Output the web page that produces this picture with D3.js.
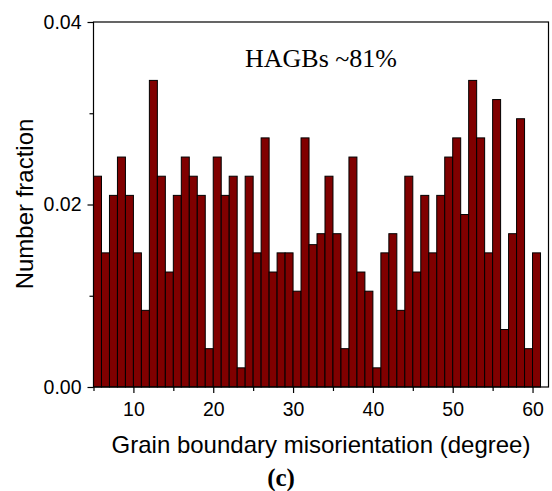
<!DOCTYPE html>
<html>
<head>
<meta charset="utf-8">
<script src="https://cdn.jsdelivr.net/npm/d3@7"></script>
<style>
  body { margin: 0; background: #fff; }
  svg { display: block; }
</style>
</head>
<body>
<div id="chart"></div>
<script>
// bin start (degree), each bin is 1 degree wide
const bins = d3.range(5, 61);
// number fraction
const fractions = [
  0.0231, 0.0147, 0.0210, 0.0252, 0.0210, 0.0147, 0.0084, 0.0336, 0.0231, 0.0126,
  0.0210, 0.0252, 0.0231, 0.0210, 0.0042, 0.0252, 0.0210, 0.0231, 0.0021, 0.0231,
  0.0147, 0.0273, 0.0126, 0.0147, 0.0147, 0.0105, 0.0273, 0.0156, 0.0168, 0.0231,
  0.0168, 0.0042, 0.0252, 0.0126, 0.0105, 0.0021, 0.0147, 0.0168, 0.0084, 0.0231,
  0.0126, 0.0210, 0.0147, 0.0210, 0.0252, 0.0273, 0.0189, 0.0336, 0.0273, 0.0147,
  0.0315, 0.0063, 0.0168, 0.0294, 0.0042, 0.0147
];
const xMajor = [10, 20, 30, 40, 50, 60];
const xMinor = [5, 15, 25, 35, 45, 55];
const yMajor = [0, 0.02, 0.04];
const yMinor = [0.01, 0.03];

const width = 552, height = 491;
const plot = { left: 93.5, right: 548.5, top: 22, bottom: 387 };

const svg = d3.select('#chart').append('svg')
  .attr('width', width)
  .attr('height', height);

const x = d3.scaleLinear().domain([5, 62]).range([plot.left, plot.right]);
const y = d3.scaleLinear().domain([0, 0.04]).range([plot.bottom, plot.top]);

const data = bins.map((b, i) => ({ bin: b, value: fractions[i] }));

// bars
svg.append('g')
  .selectAll('rect')
  .data(data)
  .enter()
  .append('rect')
  .attr('x', d => x(d.bin))
  .attr('y', d => y(d.value))
  .attr('width', d => x(d.bin + 1) - x(d.bin))
  .attr('height', d => y(0) - y(d.value))
  .attr('fill', '#800000')
  .attr('stroke', '#000')
  .attr('stroke-width', 1);

// frame
svg.append('rect')
  .attr('x', plot.left)
  .attr('y', plot.top)
  .attr('width', plot.right - plot.left)
  .attr('height', plot.bottom - plot.top)
  .attr('fill', 'none')
  .attr('stroke', '#000')
  .attr('stroke-width', 1.2);

const tickFont = '"Liberation Sans", Arial, sans-serif';

// x axis
const xAxis = svg.append('g')
  .attr('transform', `translate(0,${plot.bottom})`)
  .call(d3.axisBottom(x).tickValues(xMajor).tickSize(6).tickPadding(9.5).tickFormat(d3.format('d')));
xAxis.select('.domain').remove();
xAxis.selectAll('text').attr('font-size', 19.5).attr('font-family', tickFont).attr('fill', '#000');
xAxis.selectAll('line').attr('stroke-width', 1.2);

svg.append('g')
  .attr('transform', `translate(0,${plot.bottom})`)
  .call(d3.axisBottom(x).tickValues(xMinor).tickSize(4).tickFormat(''))
  .call(g => g.select('.domain').remove())
  .selectAll('line').attr('stroke-width', 1.2);

// y axis
const yAxis = svg.append('g')
  .attr('transform', `translate(${plot.left},0)`)
  .call(d3.axisLeft(y).tickValues(yMajor).tickSize(6).tickPadding(6).tickFormat(d3.format('.2f')));
yAxis.select('.domain').remove();
yAxis.selectAll('text').attr('font-size', 19.5).attr('font-family', tickFont).attr('fill', '#000');
yAxis.selectAll('line').attr('stroke-width', 1.2);

svg.append('g')
  .attr('transform', `translate(${plot.left},0)`)
  .call(d3.axisLeft(y).tickValues(yMinor).tickSize(4).tickFormat(''))
  .call(g => g.select('.domain').remove())
  .selectAll('line').attr('stroke-width', 1.2);

// labels
svg.append('text')
  .attr('x', 321)
  .attr('y', 453)
  .attr('text-anchor', 'middle')
  .attr('font-family', tickFont)
  .attr('font-size', 24)
  .text('Grain boundary misorientation (degree)');

svg.append('text')
  .attr('transform', `translate(33,204) rotate(-90)`)
  .attr('text-anchor', 'middle')
  .attr('font-family', tickFont)
  .attr('font-size', 24)
  .text('Number fraction');

svg.append('text')
  .attr('x', 321)
  .attr('y', 66.5)
  .attr('text-anchor', 'middle')
  .attr('font-family', '"Liberation Serif", "Times New Roman", serif')
  .attr('font-size', 26)
  .text('HAGBs ~81%');

svg.append('text')
  .attr('x', 281)
  .attr('y', 486)
  .attr('text-anchor', 'middle')
  .attr('font-family', '"Liberation Serif", "Times New Roman", serif')
  .attr('font-weight', 'bold')
  .attr('font-size', 25)
  .text('(c)');
</script>
</body>
</html>
